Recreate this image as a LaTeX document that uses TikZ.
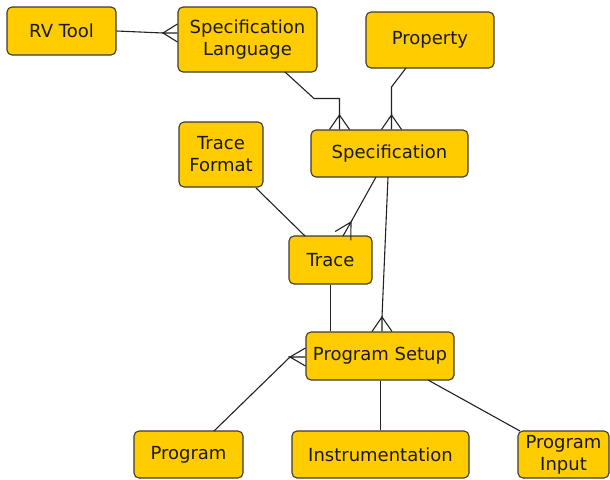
\documentclass[tikz,border=0pt]{standalone}
\usepackage{fontspec}
\setmainfont{DejaVu Sans}
\usetikzlibrary{calc}
\definecolor{boxfill}{HTML}{FFCC00}
\definecolor{boxline}{HTML}{3A3A3A}
\definecolor{wire}{HTML}{222222}
\tikzset{
  box/.style={draw=boxline, fill=boxfill, rounded corners=5pt, line width=1.1pt,
    inner sep=0pt, align=center, text=black!90,
    font=\fontsize{18}{22}\selectfont},
  link/.style={draw=wire, line width=1.1pt},
}
% crow's foot: fan point #1, tip on the box #2, half spread #3
\newcommand{\crowfoot}[3]{%
  \draw[link] ($(#2)!#3!90:(#1)$) -- (#1) -- (#2);
  \draw[link] ($(#2)!#3!-90:(#1)$) -- (#1);}
\begin{document}
\begin{tikzpicture}[x=1pt,y=-1pt]
\useasboundingbox (0,0) rectangle (610,479);

% entities
\node[box, minimum width=109pt, minimum height=48pt] (rv)    at (61.5,31)    {RV Tool};
\node[box, minimum width=139pt, minimum height=65pt] (sl)    at (247.5,39.5) {Specification\\Language};
\node[box, minimum width=128pt, minimum height=56pt] (prop)  at (430,40)     {Property};
\node[box, minimum width=157pt, minimum height=47pt] (spec)  at (389.5,153.5){Specification};
\node[box, minimum width=84pt,  minimum height=65pt] (tf)    at (221,154.5)  {Trace\\Format};
\node[box, minimum width=83pt,  minimum height=48pt] (trace) at (330.5,260)  {Trace};
\node[box, minimum width=148pt, minimum height=48pt] (ps)    at (380,356)    {Program Setup};
\node[box, minimum width=109pt, minimum height=47pt] (prog)  at (188.5,454.5){Program};
\node[box, minimum width=177pt, minimum height=47pt] (instr) at (380.5,454.5){Instrumentation};
\node[box, minimum width=91pt,  minimum height=47pt] (pin)   at (563.5,454.5){Program\\Input};

% RV Tool -- Specification Language
\coordinate (f1) at (163,33);
\coordinate (e1) at (sl.west |- f1);
\draw[link] (rv.east) -- (f1);
\crowfoot{f1}{e1}{9pt}

% Specification Language -- Specification
\coordinate (f2) at (339.5,115);
\coordinate (e2) at (spec.north -| f2);
\draw[link] (285,72) -- (314,98.5) -- (339.5,98.5) -- (f2);
\crowfoot{f2}{e2}{10pt}

% Property -- Specification
\coordinate (f3) at (391.5,115);
\coordinate (e3) at (spec.north -| f3);
\draw[link] (406,68) -- (391.5,87) -- (f3);
\crowfoot{f3}{e3}{10pt}

% Specification -- Trace
\coordinate (s4) at (376,177);
\coordinate (f4) at (351,222);
\coordinate (e4) at (343,236);
\draw[link] (s4) -- (f4);
\crowfoot{f4}{e4}{9pt}

% Specification -- Program Setup
\coordinate (s5) at (388,177);
\coordinate (f5) at (382,317);
\coordinate (e5) at (ps.north -| f5);
\draw[link] (s5) -- (f5);
\crowfoot{f5}{e5}{10pt}

% Trace Format -- Trace
\draw[link] (256,188) -- (305,236);

% Trace -- Program Setup
\coordinate (t7) at (330.5,284);
\draw[link] (trace.south -| t7) -- (ps.north -| t7);

% Program -- Program Setup
\coordinate (s8) at (214,431);
\coordinate (f8) at (290,357);
\coordinate (e8) at (ps.west |- f8);
\draw[link] (s8) -- (f8);
\crowfoot{f8}{e8}{9pt}

% Instrumentation -- Program Setup
\coordinate (t9) at (380.5,400);
\draw[link] (instr.north -| t9) -- (ps.south -| t9);

% Program Input -- Program Setup
\draw[link] (520,431) -- (428,380);
\end{tikzpicture}
\end{document}
